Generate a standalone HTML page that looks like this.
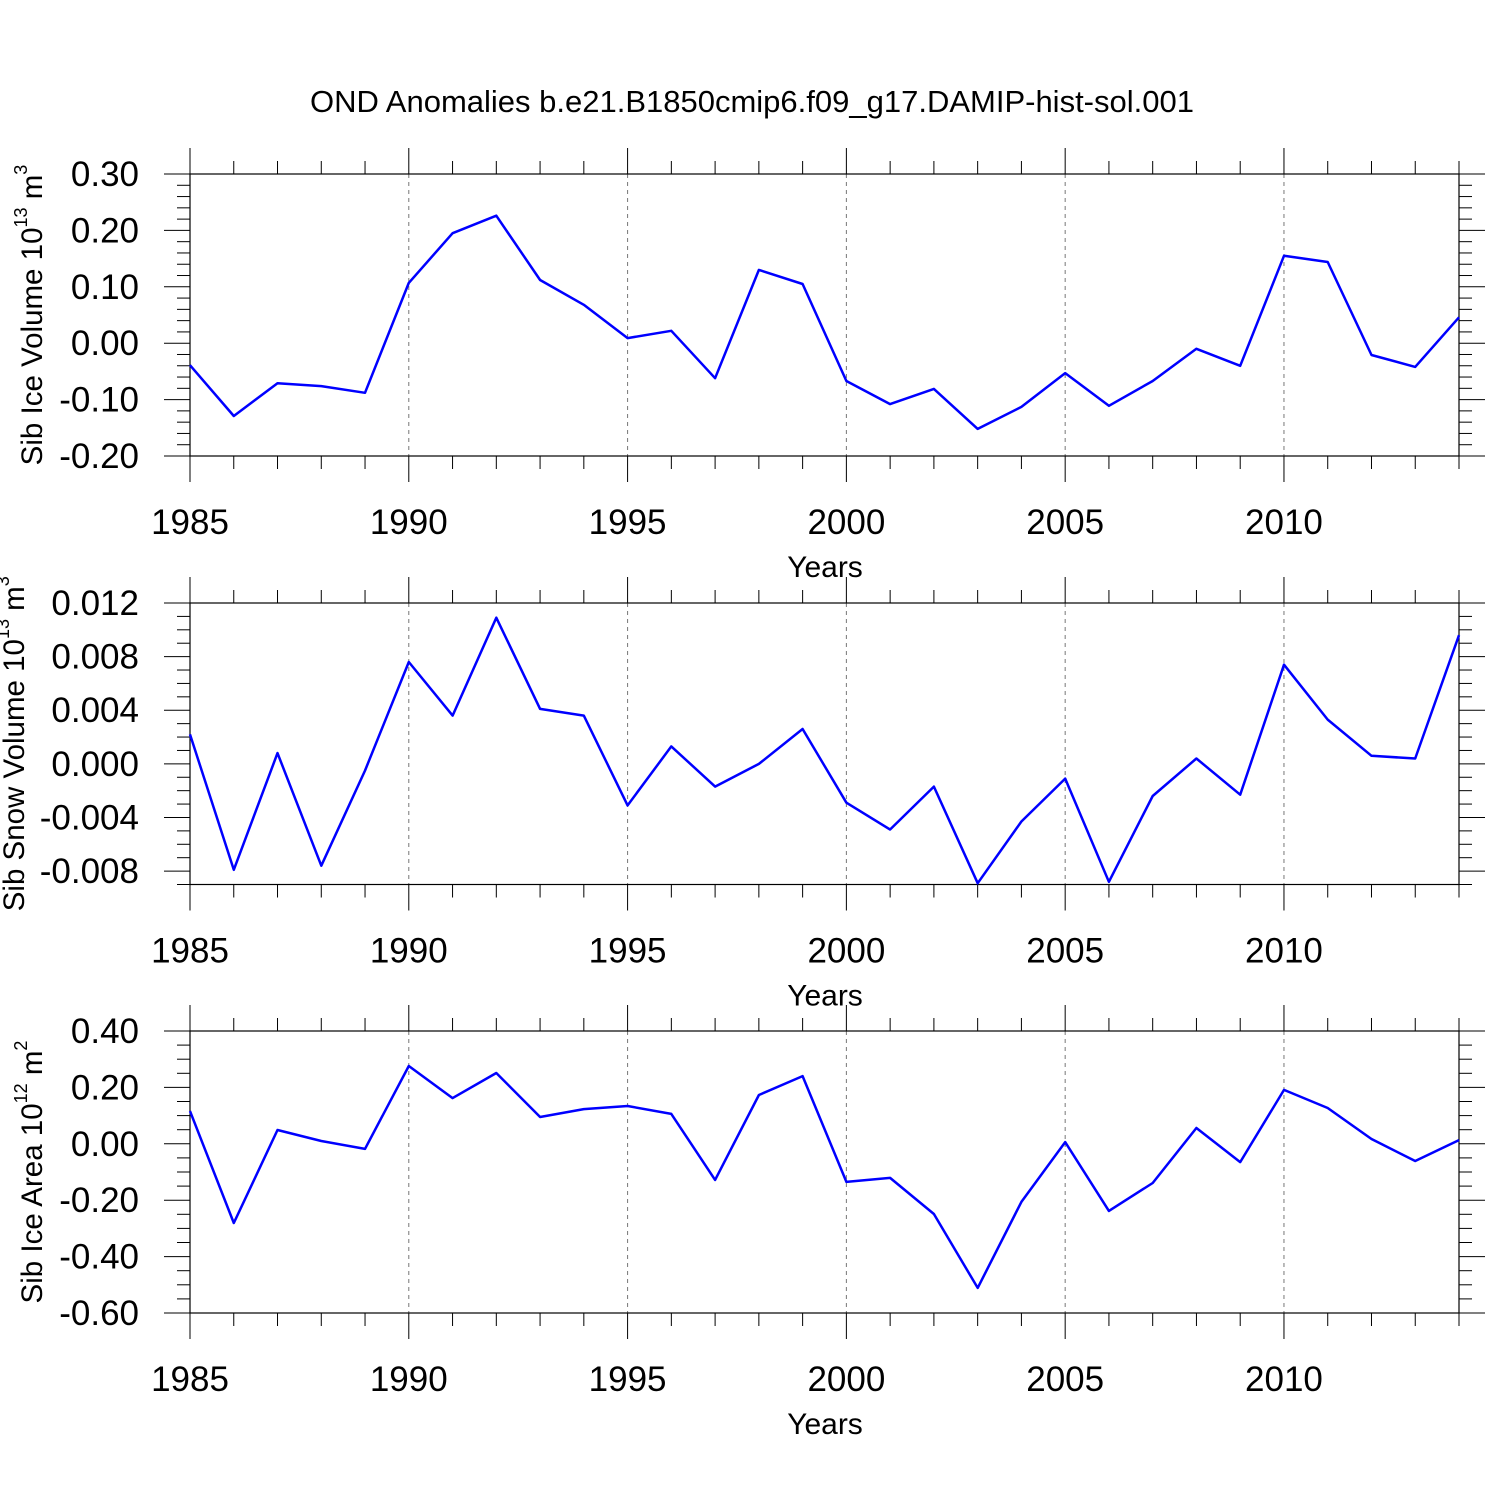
<!DOCTYPE html>
<html><head><meta charset="utf-8"><style>
html,body{margin:0;padding:0;background:#fff}
svg{display:block;font-family:"Liberation Sans",sans-serif}
</style></head><body>
<svg id="c" width="1500" height="1500" viewBox="0 0 1500 1500">
<text x="752" y="112" font-size="31" text-anchor="middle">OND Anomalies b.e21.B1850cmip6.f09_g17.DAMIP-hist-sol.001</text>
</svg>
<script>
const years = [];
for (let y = 1985; y <= 2014; y++) years.push(y);
const iceVolume = [-0.039,-0.129,-0.071,-0.076,-0.088,0.107,0.195,0.226,0.112,0.068,0.009,0.022,-0.062,0.130,0.105,-0.067,-0.108,-0.081,-0.152,-0.113,-0.053,-0.111,-0.067,-0.010,-0.040,0.155,0.144,-0.021,-0.042,0.046];
const snowVolume = [0.0022,-0.0079,0.0008,-0.0076,-0.0005,0.0076,0.0036,0.0109,0.0041,0.0036,-0.0031,0.0013,-0.0017,0.0000,0.0026,-0.0029,-0.0049,-0.0017,-0.0089,-0.0043,-0.0011,-0.0088,-0.0024,0.0004,-0.0023,0.0074,0.0033,0.0006,0.0004,0.0096];
const iceArea = [0.116,-0.281,0.049,0.010,-0.018,0.276,0.162,0.251,0.095,0.123,0.134,0.106,-0.128,0.173,0.240,-0.135,-0.121,-0.249,-0.511,-0.206,0.006,-0.238,-0.139,0.056,-0.065,0.191,0.127,0.017,-0.061,0.013];
const xTickLabels = ["1985","1990","1995","2000","2005","2010"];
const iceVolTicks = ["0.30","0.20","0.10","0.00","-0.10","-0.20"];
const snowVolTicks = ["0.012","0.008","0.004","0.000","-0.004","-0.008"];
const iceAreaTicks = ["0.40","0.20","0.00","-0.20","-0.40","-0.60"];

const svg = document.getElementById('c');
const NS = 'http://www.w3.org/2000/svg';
const X0 = 190, X1 = 1459;
function xs(yr){ return X0 + (yr - 1985) * (X1 - X0) / 29; }
function mk(tag, attrs, parent){
  const e = document.createElementNS(NS, tag);
  for (const k in attrs) e.setAttribute(k, attrs[k]);
  (parent || svg).appendChild(e); return e;
}

function panel(opt){
  const g = mk('g', {});
  
  
  const ys = v => opt.top + (opt.ymax - v) * (opt.bot - opt.top) / (opt.ymax - opt.ymin);
  for (let yr = 1990; yr <= 2010; yr += 5) {
    const l = mk('line', {x1: xs(yr), x2: xs(yr), y1: opt.top, y2: opt.bot, stroke: '#777', 'stroke-width': 1, 'stroke-dasharray': '4,4'}, g);
    
    
  }
  const r = mk('rect', {x: X0, y: opt.top, width: X1 - X0, height: opt.bot - opt.top, fill: 'none', stroke: '#000', 'stroke-width': 1.2}, g);
  
  
  for (const yr of years) {
    const major = (yr % 5 === 0);
    const len = major ? 26 : 13;
    mk('line', {x1: xs(yr), x2: xs(yr), y1: opt.top - len, y2: opt.top, stroke: '#000', 'stroke-width': 1}, g);
    mk('line', {x1: xs(yr), x2: xs(yr), y1: opt.bot, y2: opt.bot + len, stroke: '#000', 'stroke-width': 1}, g);
  }
  xTickLabels.forEach(s => {
    const t = mk('text', {x: xs(+s), y: opt.bot + 78, 'font-size': 35, 'text-anchor': 'middle'}, g);
    t.textContent = s;
    
    
  });
  const xt = mk('text', {x: 825, y: opt.bot + 121, 'font-size': 30, 'text-anchor': 'middle'}, g);
  xt.textContent = 'Years';
  
  
  const n = Math.round((opt.ymax - opt.ymin) / opt.minor);
  for (let i = 0; i <= n; i++) {
    const v = opt.ymax - i * opt.minor;
    const y = ys(v);
    const isMajor = Math.abs(((opt.ymax - v) / opt.major) - Math.round((opt.ymax - v) / opt.major)) < 1e-6;
    const len = isMajor ? 26 : 13;
    mk('line', {x1: X0 - len, x2: X0, y1: y, y2: y, stroke: '#000', 'stroke-width': 1}, g);
    mk('line', {x1: X1, x2: X1 + len, y1: y, y2: y, stroke: '#000', 'stroke-width': 1}, g);
  }
  opt.ticks.forEach(s => {
    const t = mk('text', {x: 139, y: ys(parseFloat(s)) + 12, 'font-size': 35, 'text-anchor': 'end'}, g);
    t.textContent = s;
    
    
  });
  const cy = (opt.top + opt.bot) / 2;
  const yt = mk('text', {x: 0, y: 0, 'font-size': 29.5, 'text-anchor': 'middle', transform: `translate(${opt.titleX},${cy}) rotate(-90)`}, g);
  yt.innerHTML = opt.title;
  
  
  const pts = opt.data.map((v, i) => xs(years[i]).toFixed(1) + ',' + ys(v).toFixed(1)).join(' ');
  const pl = mk('polyline', {points: pts, fill: 'none', stroke: '#0000ff', 'stroke-width': 2.5, 'stroke-linejoin': 'round'}, g);
  
  
}

panel({name: 'ice-volume-panel', top: 174, bot: 456, ymax: 0.30, ymin: -0.20, major: 0.1, minor: 0.02, ticks: iceVolTicks, data: iceVolume, titleX: 42,
  title: 'Sib Ice Volume 10<tspan font-size="18" dy="-15">13</tspan><tspan dy="15"> m</tspan><tspan font-size="18" dy="-15">3</tspan>'});
panel({name: 'snow-volume-panel', top: 603, bot: 884.5, ymax: 0.012, ymin: -0.009, major: 0.004, minor: 0.001, ticks: snowVolTicks, data: snowVolume, titleX: 24,
  title: 'Sib Snow Volume 10<tspan font-size="18" dy="-15">13</tspan><tspan dy="15"> m</tspan><tspan font-size="18" dy="-15">3</tspan>'});
panel({name: 'ice-area-panel', top: 1031, bot: 1313, ymax: 0.40, ymin: -0.60, major: 0.2, minor: 0.05, ticks: iceAreaTicks, data: iceArea, titleX: 42,
  title: 'Sib Ice Area 10<tspan font-size="18" dy="-15">12</tspan><tspan dy="15"> m</tspan><tspan font-size="18" dy="-15">2</tspan>'});
</script>
</body></html>
